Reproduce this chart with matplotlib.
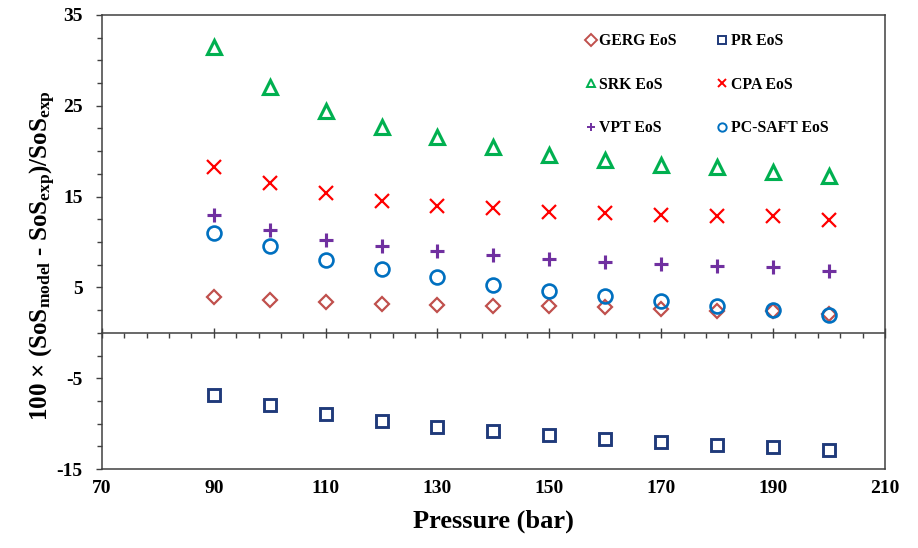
import matplotlib
matplotlib.use('Agg')
from matplotlib import pyplot as plt
from matplotlib.ticker import FixedLocator

plt.rcParams['font.family'] = ['Liberation Serif', 'DejaVu Serif']
plt.rcParams['font.weight'] = 'bold'
plt.rcParams['axes.unicode_minus'] = False
plt.rcParams['mathtext.fontset'] = 'custom'
plt.rcParams['mathtext.rm'] = 'Liberation Serif:bold'
plt.rcParams['mathtext.bf'] = 'Liberation Serif:bold'
plt.rcParams['mathtext.it'] = 'Liberation Serif:bold'

# Давление, bar
pressure = [90, 100, 110, 120, 130, 140, 150, 160, 170, 180, 190, 200]

# Отклонения скорости звука по моделям, %
gerg = [3.9, 3.6, 3.4, 3.2, 3.1, 3.0, 2.9, 2.8, 2.6, 2.4, 2.4, 2.1]
pr = [-6.9, -8.0, -8.9, -9.7, -10.4, -10.8, -11.2, -11.7, -12.0, -12.3, -12.6, -12.9]
srk = [31.5, 27.1, 24.4, 22.7, 21.5, 20.5, 19.6, 19.0, 18.5, 18.2, 17.7, 17.3]
cpa = [18.3, 16.5, 15.4, 14.5, 14.0, 13.7, 13.3, 13.2, 13.0, 12.9, 12.9, 12.4]
vpt = [13.0, 11.3, 10.2, 9.6, 9.0, 8.6, 8.1, 7.8, 7.6, 7.4, 7.2, 6.8]
pcsaft = [11.0, 9.5, 8.0, 7.0, 6.1, 5.3, 4.6, 4.1, 3.5, 3.0, 2.5, 2.0]

x_ticks = [70, 90, 110, 130, 150, 170, 190, 210]
y_ticks = [-15, -5, 5, 15, 25, 35]

fig = plt.figure(figsize=(9.18, 5.48), dpi=100)
ax = fig.add_axes([0.111, 0.144, 0.853, 0.829])

spine_col = '#404040'
ms = 9.5
mew = 1.6

# Строим точки (порядок — для раскладки легенды по строкам)
ax.plot(pressure, gerg, ls='none', marker='D', ms=ms * 0.75, mfc='none', mec='#C0504D', mew=mew, label='GERG EoS')
ax.plot(pressure, srk, ls='none', marker='^', ms=ms, mfc='none', mec='#00B050', mew=mew * 1.4, label='SRK EoS')
ax.plot(pressure, vpt, ls='none', marker='+', ms=ms * 1.1, mec='#7030A0', mew=mew * 1.4, label='VPT EoS')
ax.plot(pressure, pr, ls='none', marker='s', ms=ms * 0.95, mfc='none', mec='#1F3A7A', mew=mew * 1.3, label='PR EoS')
ax.plot(pressure, cpa, ls='none', marker='x', ms=ms, mec='#FF0000', mew=mew, label='CPA EoS')
ax.plot(pressure, pcsaft, ls='none', marker='o', ms=ms * 1.05, mfc='none', mec='#0070C0', mew=mew * 1.2, label='PC-SAFT EoS')

ax.set_xlim(70, 210)
ax.set_ylim(-15, 35)

ax.set_xticks(x_ticks)
ax.set_yticks(y_ticks)
ax.yaxis.set_minor_locator(FixedLocator([-15 + 2.5 * i for i in range(21)]))

ax.tick_params(axis='y', which='major', direction='out', length=4, width=1, color=spine_col, labelsize=14, pad=10)
ax.tick_params(axis='y', which='minor', direction='out', length=3.5, width=1, color=spine_col)
ax.tick_params(axis='x', which='both', length=0, labelsize=14, pad=8)

for s in ax.spines.values():
    s.set_color(spine_col)
    s.set_linewidth(1.1)

# Ось X, проходящая через ноль
sec = ax.secondary_xaxis(0.3)
sec.set_xticks(x_ticks)
sec.xaxis.set_minor_locator(FixedLocator([70 + 4 * i for i in range(36)]))
sec.tick_params(axis='x', which='major', direction='inout', length=7, width=1, color=spine_col, labelbottom=False)
sec.tick_params(axis='x', which='minor', direction='out', length=3.5, width=1, color=spine_col)
sec.spines['bottom'].set_color(spine_col)
sec.spines['bottom'].set_linewidth(1.1)

ax.set_xlabel('Pressure (bar)', fontsize=19, fontweight='bold', labelpad=9)
ax.set_ylabel(r'100 × (SoS$_{\mathbf{model}}$ - SoS$_{\mathbf{exp}}$)/SoS$_{\mathbf{exp}}$',
              fontsize=18, fontweight='bold')
ax.yaxis.set_label_coords(-0.056, 0.47)

leg = ax.legend(ncol=2, loc='upper left', bbox_to_anchor=(0.6, 0.99), frameon=False,
                fontsize=11.3, handlelength=0.6, handletextpad=0.25,
                labelspacing=1.74, columnspacing=2.6)
for t in leg.get_texts():
    t.set_fontweight('bold')
for h in leg.legend_handles:
    h.set_markersize(6)
    h.set_markeredgewidth(1.4)

fig.savefig('out.png', dpi=100)
